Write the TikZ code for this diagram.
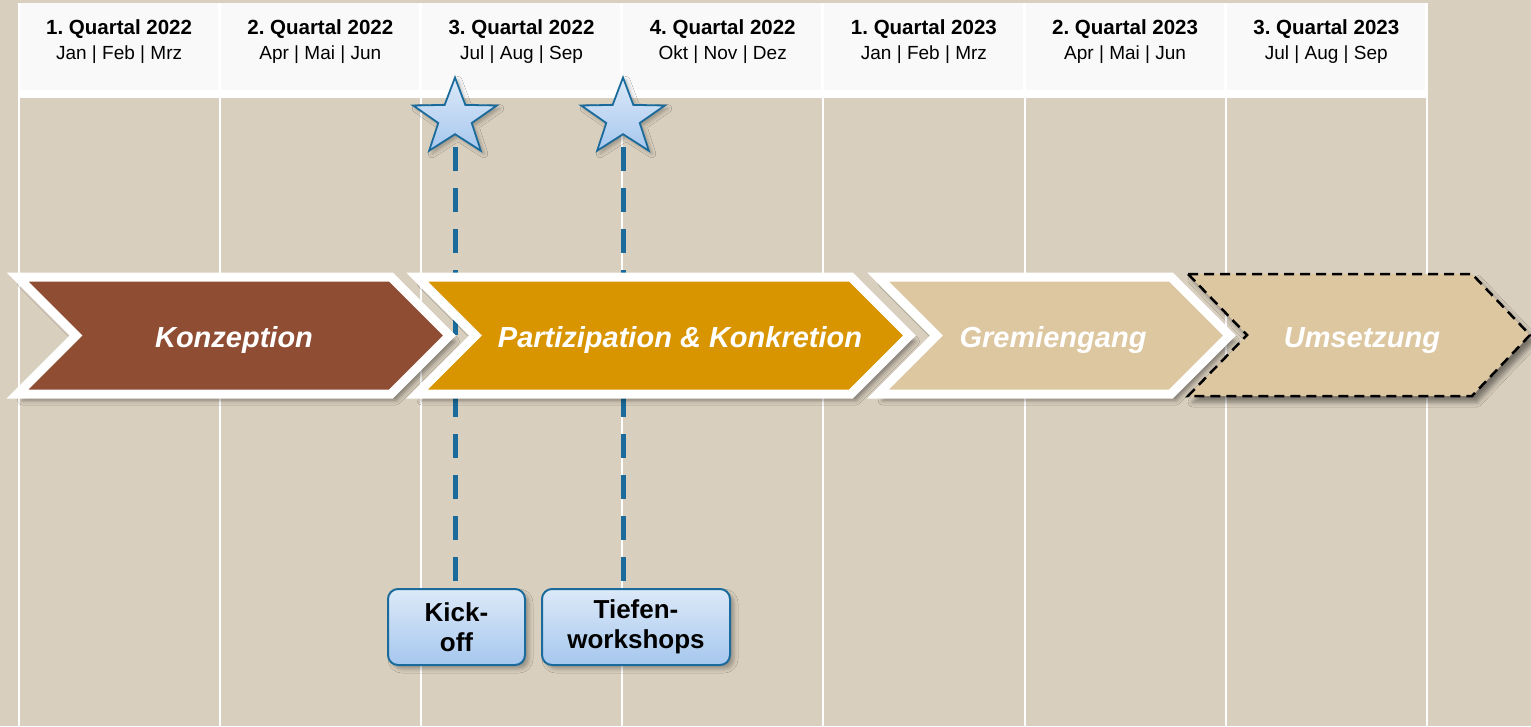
\documentclass[tikz,border=0pt]{standalone}
\usepackage{fontspec}
\setmainfont{Liberation Sans}
\usetikzlibrary{shapes.geometric,positioning,shadows.blur}
\frenchspacing

\definecolor{bgbeige}{HTML}{D9CFBE}
\definecolor{headgray}{HTML}{F9F9F9}
\definecolor{konzbrown}{HTML}{8F4D33}
\definecolor{partgold}{HTML}{D89500}
\definecolor{gremtan}{HTML}{DDC7A1}
\definecolor{pinblue}{HTML}{1A6B9C}
\definecolor{startop}{HTML}{DCE9F8}
\definecolor{starbot}{HTML}{A6C7EE}

\begin{document}
\begin{tikzpicture}[x=1pt, y=-1pt,
    quarter/.style={font=\fontsize{20.5}{24}\selectfont\bfseries, anchor=base, inner sep=0pt},
    months/.style={font=\fontsize{19}{23}\selectfont, anchor=base, inner sep=0pt},
    phase/.style={draw=white, line width=9pt, miter limit=10,
        blur shadow={shadow xshift=5pt, shadow yshift=-6pt, shadow blur radius=5pt, shadow opacity=45}},
    phasetext/.style={text=white, font=\fontsize{29}{34}\selectfont\bfseries\itshape, anchor=base, inner sep=0pt},
    milestar/.style={star, star points=5, star point ratio=2.5, minimum size=88pt, inner sep=0pt,
        yscale=0.92, draw=pinblue, line width=1.8pt, top color=startop, bottom color=starbot,
        blur shadow={shadow xshift=3pt, shadow yshift=-3pt, shadow blur radius=4pt, shadow opacity=30}},
    milebox/.style={rectangle, rounded corners=10pt, draw=pinblue, line width=2pt,
        top color=startop, bottom color=starbot, minimum height=76pt, align=center,
        font=\fontsize{26}{30}\selectfont\bfseries,
        blur shadow={shadow xshift=4pt, shadow yshift=-4pt, shadow blur radius=4pt, shadow opacity=30}},
    pinline/.style={draw=pinblue, line width=5pt, dash pattern=on 24pt off 17pt, dash phase=12pt}
]
\useasboundingbox (0,0) rectangle (1531,726);
\fill[bgbeige] (0,0) rectangle (1531,726);

% Header
\fill[white] (18,3) rectangle (1427,98);
\foreach \i in {0,...,6}
    \fill[headgray] ({19.5+201.2*\i},3) rectangle ({217.7+201.2*\i},90);
\foreach \i in {0,...,7}
    \draw[white, line width=2pt] ({18.5+201.2*\i},3) -- ({18.5+201.2*\i},726);

\node[quarter] (q1) at (119.1,34.5) {1. Quartal 2022};
\node[quarter] (q2) at (320.3,34.5) {2. Quartal 2022};
\node[quarter] (q3) at (521.5,34.5) {3. Quartal 2022};
\node[quarter] (q4) at (722.7,34.5) {4. Quartal 2022};
\node[quarter] (q5) at (923.9,34.5) {1. Quartal 2023};
\node[quarter] (q6) at (1125.1,34.5) {2. Quartal 2023};
\node[quarter] (q7) at (1326.3,34.5) {3. Quartal 2023};

\node[months] (m1) at (119.1,59) {Jan | Feb | Mrz};
\node[months] (m2) at (320.3,59) {Apr | Mai | Jun};
\node[months] (m3) at (521.5,59) {Jul | Aug | Sep};
\node[months] (m4) at (722.7,59) {Okt | Nov | Dez};
\node[months] (m5) at (923.9,59) {Jan | Feb | Mrz};
\node[months] (m6) at (1125.1,59) {Apr | Mai | Jun};
\node[months] (m7) at (1326.3,59) {Jul | Aug | Sep};

% Milestones
\coordinate (kickpin) at (455,118);
\coordinate (tiefenpin) at (623,118);
\node[milebox, minimum width=137pt] (kickbox) at (456.5,627) {Kick-\\off};
\node[milebox, minimum width=188pt] (tiefenbox) at (636,627) {Tiefen-\\workshops};

\draw[pinline] (kickpin) -- (kickpin |- kickbox.north);
\draw[pinline] (tiefenpin) -- (tiefenpin |- tiefenbox.north);

% Phases
\draw[black, line width=2.5pt, dash pattern=on 10pt off 6pt, fill=gremtan,
    blur shadow={shadow xshift=5pt, shadow yshift=-6pt, shadow blur radius=5pt, shadow opacity=45}]
    (1188,274) -- (1472,274) -- (1530,335) -- (1472,396) -- (1188,396) -- (1247,335) -- cycle;
\draw[phase, fill=gremtan] (878,277) -- (1171,277) -- (1229.5,335.5) -- (1171,394) -- (878,394) -- (936.5,335.5) -- cycle;
\draw[phase, fill=partgold] (417,277) -- (851,277) -- (909.5,335.5) -- (851,394) -- (417,394) -- (475.5,335.5) -- cycle;
\draw[phase, fill=konzbrown] (17.5,277) -- (391,277) -- (449.5,335.5) -- (391,394) -- (17.5,394) -- (76,335.5) -- cycle;

\node[phasetext] (konz) at (234,347) {Konzeption};
\node[phasetext] (part) at (680,347) {Partizipation \& Konkretion};
\node[phasetext] (grem) at (1053,347) {Gremiengang};
\node[phasetext] (umse) at (1362,347) {Umsetzung};

% Stars
\node[milestar] (kickstar) at (kickpin) {};
\node[milestar] (tiefenstar) at (tiefenpin) {};

\end{tikzpicture}
\end{document}
